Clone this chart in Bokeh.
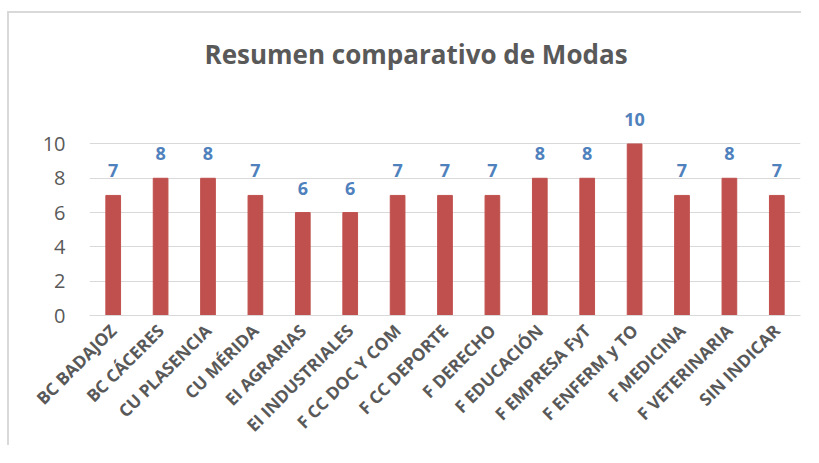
from bokeh.plotting import figure
from bokeh.models import FactorRange, Range1d, FixedTicker, ColumnDataSource
from bokeh.core.properties import value
from bokeh.embed import file_html
from bokeh.resources import INLINE
import math

categories = ["BC BADAJOZ", "BC CÁCERES", "CU PLASENCIA", "CU MÉRIDA", "EI AGRARIAS",
              "EI INDUSTRIALES", "F CC DOC Y COM", "F CC DEPORTE", "F DERECHO",
              "F EDUCACIÓN", "F EMPRESA FyT", "F ENFERM y TO", "F MEDICINA",
              "F VETERINARIA", "SIN INDICAR"]
modas = [7, 8, 8, 7, 6, 6, 7, 7, 7, 8, 8, 10, 7, 8, 7]
y_ticks = [0, 2, 4, 6, 8, 10]

src = ColumnDataSource(dict(cat=categories, val=modas, lbl=[str(v) for v in modas]))

p = figure(x_range=FactorRange(*categories), y_range=Range1d(0, 13),
           width=794, height=434, output_backend="svg", toolbar_location=None,
           min_border_left=80, min_border_right=3, min_border_bottom=131,
           min_border_top=79)
p.styles = {"border-left": "2px solid #D9D9D9", "border-top": "2px solid #D9D9D9",
            "margin-left": "7px", "margin-top": "11px"}

p.title.text = "Resumen comparativo de Modas"
p.title.align = "left"
p.title.offset = 115
p.title.text_font = "Open Sans"
p.title.text_font_size = "26px"
p.title.text_font_style = "bold"
p.title.text_color = "#595959"
p.title.standoff = 41

p.vbar(x="cat", top="val", width=0.31, source=src, color="#C0504D")
p.text(x="cat", y="val", text="lbl", source=src, text_align="center",
       text_baseline="bottom", y_offset=-18, text_font=value("Open Sans"),
       text_font_style="bold", text_font_size="18px", text_color="#4F81BD")

p.outline_line_color = None
p.xgrid.grid_line_color = None
p.ygrid.grid_line_color = "#D9D9D9"
p.ygrid.grid_line_width = 1
p.yaxis.ticker = FixedTicker(ticks=y_ticks)
p.yaxis.axis_line_color = None
p.yaxis.major_tick_line_color = None
p.yaxis.minor_tick_line_color = None
p.yaxis.major_label_text_font = "Open Sans"
p.yaxis.major_label_text_font_size = "20px"
p.yaxis.major_label_text_color = "#595959"
p.yaxis.major_label_standoff = 18

p.xaxis.axis_line_color = "#D9D9D9"
p.xaxis.major_tick_line_color = None
p.xaxis.minor_tick_line_color = None
p.xaxis.major_label_orientation = math.pi / 4
p.xaxis.major_label_text_font = "Open Sans"
p.xaxis.major_label_text_font_style = "bold"
p.xaxis.major_label_text_font_size = "17.2px"
p.xaxis.major_label_text_color = "#595959"
p.xaxis.major_label_standoff = 6
p.x_range.range_padding = 0
p.background_fill_color = "white"
p.border_fill_color = "white"

open("out.html", "w").write(file_html(p, INLINE))
